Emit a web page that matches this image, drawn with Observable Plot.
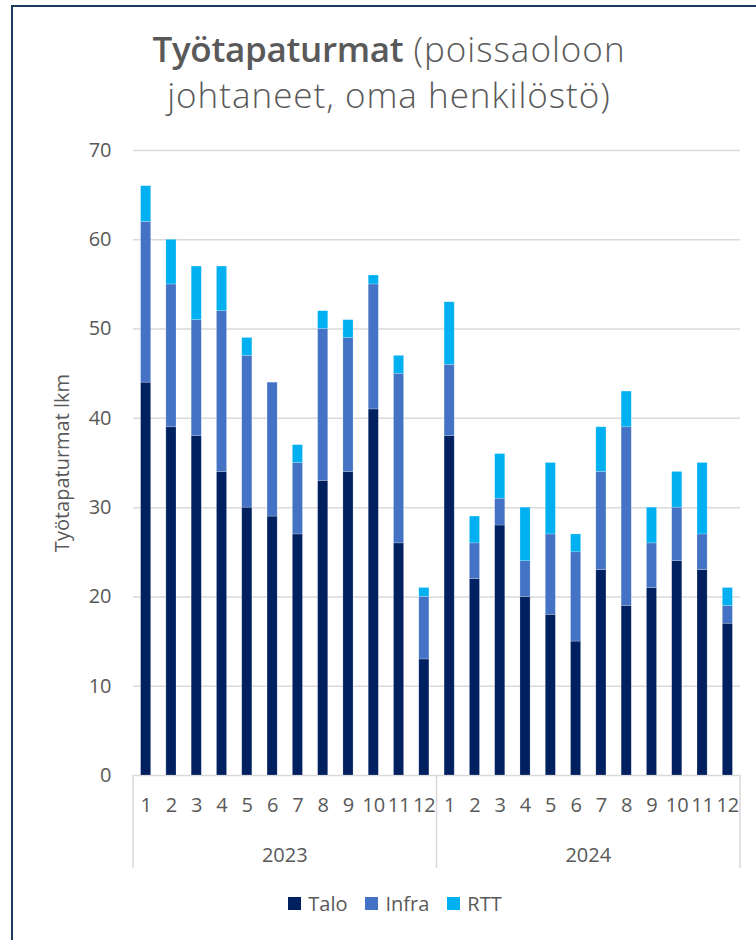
<!DOCTYPE html>
<html>
<head>
<meta charset="utf-8">
<script src="https://cdn.jsdelivr.net/npm/d3@7"></script>
<script src="https://cdn.jsdelivr.net/npm/@observablehq/plot@0.6"></script>
<style>
  body { margin: 0; background: #fff; font-family: "Open Sans", sans-serif; }
  #wrap { position: relative; width: 756px; height: 940px; overflow: hidden; background: #fff; }
  #frame { position: absolute; left: 11px; top: 5px; width: 760px; height: 950px;
           border-left: 2px solid #1B3A5C; border-top: 2px solid #1B3A5C; }
  #title { position: absolute; left: 22px; width: 734px; top: 26px; text-align: center;
           font-size: 35px; line-height: 46px; color: #595959; font-weight: 300; letter-spacing: 1px; }
  #title b { font-weight: 600; letter-spacing: -0.3px; }
  #chart { position: absolute; left: 0; top: 130px; }
  #legend { position: absolute; left: 17px; width: 756px; top: 890px; display: flex;
            justify-content: center; align-items: center; font-size: 20px; color: #595959; }
  .item { display: flex; align-items: center; margin: 0 9px; }
  .sw { width: 13px; height: 13px; margin-right: 7px; }
</style>
</head>
<body>
<div id="wrap">
  <div id="frame"></div>
  <div id="title"><b>Työtapaturmat</b> (poissaoloon<br>johtaneet, oma henkilöstö)</div>
  <div id="chart"></div>
  <div id="legend"></div>
</div>
<script>
const years = ["2023", "2024"];
const months = ["1","2","3","4","5","6","7","8","9","10","11","12"];
const series = ["Talo", "Infra", "RTT"];
const colors = ["#002060", "#4472C4", "#00B0F0"];
const yTicks = [0, 10, 20, 30, 40, 50, 60, 70];

// values per month: 2023 (1..12) then 2024 (1..12)
const talo  = [44,39,38,34,30,29,27,33,34,41,26,13, 38,22,28,20,18,15,23,19,21,24,23,17];
const infra = [18,16,13,18,17,15, 8,17,15,14,19, 7,  8, 4, 3, 4, 9,10,11,20, 5, 6, 4, 2];
const rtt   = [ 4, 5, 6, 5, 2, 0, 2, 2, 2, 1, 2, 1,  7, 3, 5, 6, 8, 2, 5, 4, 4, 4, 8, 2];

const keys = [];
years.forEach(y => months.forEach(m => keys.push(y + "-" + m)));
const valuesBySeries = [talo, infra, rtt];
const rows = [];
series.forEach((s, si) => keys.forEach((k, i) => rows.push({key: k, series: s, value: valuesBySeries[si][i]})));

const plot = Plot.plot({
  width: 756,
  height: 760,
  marginTop: 20,
  marginBottom: 115,
  marginLeft: 133,
  marginRight: 16,
  style: {fontFamily: "'Open Sans', sans-serif", fontSize: "20px", color: "#595959", background: "transparent"},
  x: {domain: keys, paddingInner: 0.6, paddingOuter: 0.3, round: false, tickFormat: k => k.split("-")[1],
      tickSize: 0, tickPadding: 22, label: null},
  y: {domain: [0, 70], ticks: yTicks, tickSize: 0, tickPadding: 22,
      label: "Työtapaturmat lkm", labelAnchor: "center", labelOffset: 79, labelArrow: false},
  color: {domain: series, range: colors},
  marks: [
    Plot.ruleY(yTicks, {stroke: "#D9D9D9", strokeWidth: 1.5}),
    Plot.barY(rows, {x: "key", y: "value", fill: "series", stroke: "#ffffff", strokeOpacity: 0.35, strokeWidth: 0.6})
  ]
});

// multi-level category axis: separators and year labels from the x scale
const xs = plot.scale("x");
const ys = plot.scale("y");
const left = xs.range[0], right = xs.range[1];
const gap = xs.step - xs.bandwidth;
const mid = xs.apply(years[1] + "-" + months[0]) - gap / 2;
const y0 = ys.apply(0);
const g = d3.select(plot).append("g");
[left, mid, right].forEach(px => {
  g.append("line").attr("x1", px).attr("x2", px).attr("y1", y0).attr("y2", y0 + 93)
    .attr("stroke", "#D9D9D9").attr("stroke-width", 1.5);
});
[[years[0], (left + mid) / 2], [years[1], (mid + right) / 2]].forEach(([t, px]) => {
  g.append("text").attr("x", px).attr("y", y0 + 87).attr("text-anchor", "middle")
    .attr("fill", "#595959").attr("font-size", 20).text(t);
});

document.getElementById("chart").appendChild(plot);

const legend = document.getElementById("legend");
series.forEach((s, i) => {
  const it = document.createElement("div");
  it.className = "item";
  it.innerHTML = `<span class="sw" style="background:${colors[i]}"></span><span>${s}</span>`;
  legend.appendChild(it);
});
</script>
</body>
</html>
